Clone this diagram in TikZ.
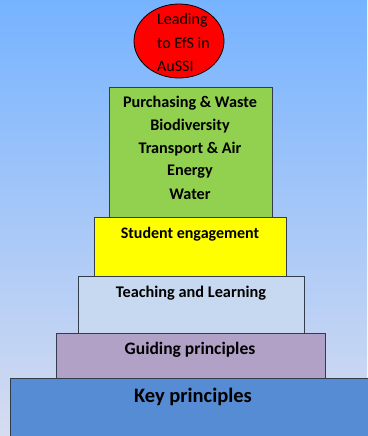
\documentclass[tikz,border=0pt]{standalone}
\usepackage{fontspec}
\setmainfont{Carlito}
\usetikzlibrary{shapes.geometric}
\definecolor{bgtop}{RGB}{118,179,255}
\definecolor{bgbot}{RGB}{214,220,240}
\definecolor{keyblue}{RGB}{85,140,212}
\definecolor{guide}{RGB}{178,161,199}
\definecolor{teach}{RGB}{198,217,240}
\definecolor{stud}{RGB}{255,255,0}
\definecolor{grn}{RGB}{146,208,80}
\definecolor{edge}{RGB}{50,60,75}
\tikzset{
  tier/.style={draw=edge, line width=1pt, anchor=north west, inner sep=0pt},
  lbl/.style={anchor=center, inner sep=0pt},
  grntxt/.style={lbl, font=\bfseries\fontsize{16.2}{18}\selectfont},
  elltxt/.style={anchor=west, inner sep=0pt, font=\fontsize{16}{18}\selectfont},
}
\begin{document}
\begin{tikzpicture}[x=1pt,y=-1pt]
\useasboundingbox (0,0) rectangle (367,436);
\shade[top color=bgtop, bottom color=bgbot] (0,0) rectangle (367,436);
% tiers
\node[tier, fill=keyblue, minimum width=370pt, minimum height=70pt] (key) at (10,378) {};
\node[tier, fill=guide, minimum width=269pt, minimum height=45pt] (guide) at (56,333) {};
\node[tier, fill=teach, minimum width=226pt, minimum height=57pt] (teach) at (78,276) {};
\node[tier, fill=stud, minimum width=192pt, minimum height=59pt] (stud) at (94,217) {};
\node[tier, fill=grn, minimum width=163pt, minimum height=130pt] (grn) at (109,87) {};
\node[draw=black, line width=0.8pt, fill=red, ellipse, minimum width=90pt, minimum height=74pt, inner sep=0pt] (top) at (179,41) {};
% labels
\node[lbl, font=\bfseries\fontsize{20.5}{22}\selectfont] (kt) at (193,397) {Key principles};
\node[lbl, font=\bfseries\fontsize{17.5}{19}\selectfont] (gt) at (190,350) {Guiding principles};
\node[lbl, font=\bfseries\fontsize{16.3}{18}\selectfont] (tt) at (191,293) {Teaching and Learning};
\node[lbl, font=\bfseries\fontsize{16}{18}\selectfont] (st) at (190,234) {Student engagement};
\node[grntxt] (g1) at (190,103) {Purchasing \& Waste};
\node[grntxt] (g2) at (190,126) {Biodiversity};
\node[grntxt] (g3) at (190,149) {Transport \& Air};
\node[grntxt] (g4) at (190,172) {Energy};
\node[grntxt] (g5) at (190,194) {Water};
\node[elltxt] (e1) at (157,20) {Leading};
\node[elltxt] (e2) at (157,43) {to EfS in};
\node[elltxt] (e3) at (157,66) {AuSSI};
\end{tikzpicture}
\end{document}
